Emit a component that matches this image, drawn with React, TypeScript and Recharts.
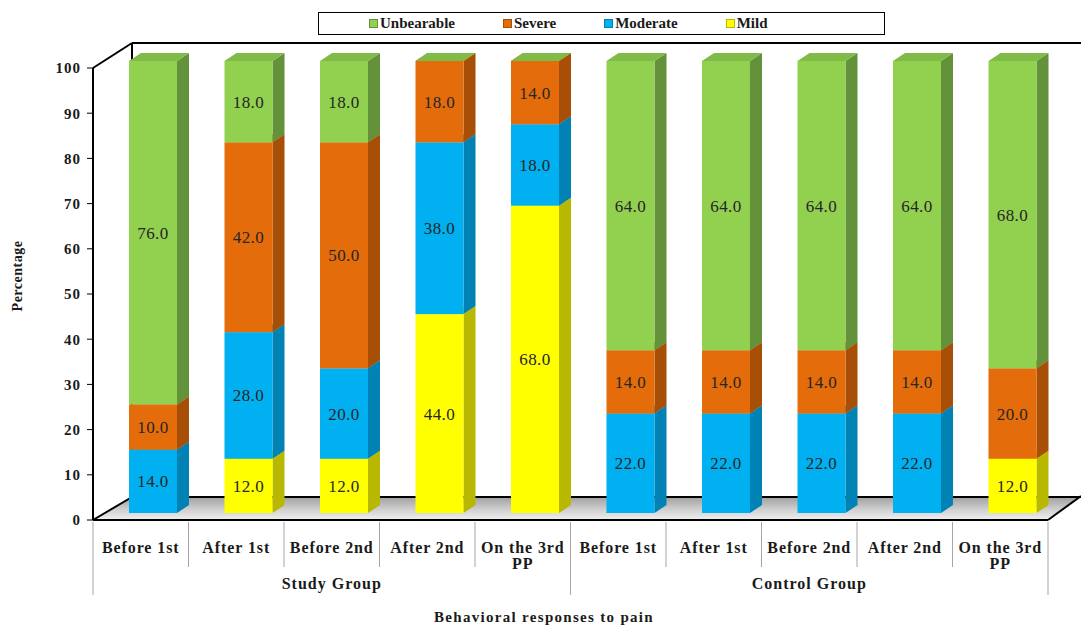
import { BarChart, Bar, XAxis, YAxis, LabelList } from "recharts"

// pain response categories, two groups of five
const categories = [
  "Before 1st", "After 1st", "Before 2nd", "After 2nd", "On the 3rd\nPP",
  "Before 1st", "After 1st", "Before 2nd", "After 2nd", "On the 3rd\nPP",
]
const groups = ["Study Group", "Control Group"]

const mild = [0, 12, 12, 44, 68, 0, 0, 0, 0, 12]
const moderate = [14, 28, 20, 38, 18, 22, 22, 22, 22, 0]
const severe = [10, 42, 50, 18, 14, 14, 14, 14, 14, 20]
const unbearable = [76, 18, 18, 0, 0, 64, 64, 64, 64, 68]

const yTicks = [0, 10, 20, 30, 40, 50, 60, 70, 80, 90, 100]

const data = categories.map((name, i) => ({
  name,
  mild: mild[i],
  moderate: moderate[i],
  severe: severe[i],
  unbearable: unbearable[i],
}))

// stacked bottom to top
const series = [
  { key: "mild", name: "Mild", front: "#ffff00", side: "#b8b800", top: "#e6e600" },
  { key: "moderate", name: "Moderate", front: "#00b0f0", side: "#0082b4", top: "#00a0dc" },
  { key: "severe", name: "Severe", front: "#e46c0a", side: "#a84f07", top: "#cc6109" },
  { key: "unbearable", name: "Unbearable", front: "#92d050", side: "#64923a", top: "#80bb48" },
]
const legendOrder = ["unbearable", "severe", "moderate", "mild"]

const W = 1081
const H = 628
const LEFT = 93
const RIGHT = 1048
const TOP = 68
const BOTTOM = 520
const BAND = (RIGHT - LEFT) / categories.length
const BACK_X = 39
const BACK_Y = -24
// bars sit part-way into the depth of the box
const BAR_DX = 12
const BAR_DY = -7
const DEPTH_X = 12
const DEPTH_Y = -8

const serif = "Liberation Serif, Tinos, Times New Roman, DejaVu Serif, serif"

function Box3D(props: any) {
  const { x, y, width, height, s, drawTop } = props
  if (x == null || y == null) return null
  const fx = x + BAR_DX
  const fy = y + BAR_DY
  const w = width
  const h = Math.max(0, height)
  return (
    <g>
      {h > 0 && (
        <>
          <polygon
            points={`${fx + w},${fy} ${fx + w + DEPTH_X},${fy + DEPTH_Y} ${fx + w + DEPTH_X},${fy + h + DEPTH_Y} ${fx + w},${fy + h}`}
            fill={s.side}
          />
          <rect x={fx} y={fy} width={w} height={h} fill={s.front} />
        </>
      )}
      {(h > 0 || drawTop) && (
        <polygon
          points={`${fx},${fy} ${fx + DEPTH_X},${fy + DEPTH_Y} ${fx + w + DEPTH_X},${fy + DEPTH_Y} ${fx + w},${fy}`}
          fill={s.top}
        />
      )}
    </g>
  )
}

function ValueLabel(props: any) {
  const vb = props.viewBox || props
  const { x, y, width, height } = vb
  const v = Number(props.value)
  if (!v) return null
  return (
    <text
      x={x + BAR_DX + width / 2}
      y={y + BAR_DY + height / 2}
      dy="0.35em"
      textAnchor="middle"
      style={{ fontFamily: serif }}
      fontSize={17}
      letterSpacing={0.4}
      fill="#262626"
    >
      {v.toFixed(1)}
    </text>
  )
}

function CategoryTick(props: any) {
  const { x, y, payload, index } = props
  const lines = String(payload.value).split("\n")
  const left = x - BAND / 2
  const groupEdge = index % 5 === 0
  const groupIdx = Math.floor(index / 5)
  return (
    <g>
      <line x1={left} y1={BOTTOM + 2} x2={left} y2={groupEdge ? 595 : 567} stroke="#a6a6a6" />
      {index === categories.length - 1 && (
        <line x1={left + BAND} y1={BOTTOM + 2} x2={left + BAND} y2={595} stroke="#a6a6a6" />
      )}
      <text
        x={x}
        y={y + 25}
        textAnchor="middle"
        style={{ fontFamily: serif }}
        fontWeight="bold"
        fontSize={16}
        letterSpacing={0.9}
        fill="#1a1a1a"
      >
        {lines.map((l, i) => (
          <tspan key={i} x={x} dy={i === 0 ? 0 : 16}>
            {l}
          </tspan>
        ))}
      </text>
      {index % 5 === 2 && (
        <text
          x={x}
          y={589}
          textAnchor="middle"
          style={{ fontFamily: serif }}
          fontWeight="bold"
          fontSize={16}
          letterSpacing={1}
          fill="#1a1a1a"
        >
          {groups[groupIdx]}
        </text>
      )}
    </g>
  )
}

function Frame() {
  const bx = LEFT + BACK_X
  const ty = TOP + BACK_Y - 1
  const fy = BOTTOM + BACK_Y + 1
  return (
    <g>
      <defs>
        <linearGradient id="floorShade" x1="0" y1="0" x2="0" y2="1">
          <stop offset="0%" stopColor="#a0a0a0" />
          <stop offset="60%" stopColor="#d4d4d4" />
          <stop offset="100%" stopColor="#f0f0f0" />
        </linearGradient>
      </defs>
      <polygon
        points={`${LEFT},${BOTTOM} ${RIGHT},${BOTTOM} ${W},${fy} ${bx},${fy}`}
        fill="url(#floorShade)"
      />
      <g stroke="#000" strokeWidth={2} fill="none">
        <line x1={bx} y1={ty} x2={W} y2={ty} />
        <line x1={bx} y1={ty} x2={bx} y2={fy} />
        <line x1={LEFT} y1={TOP} x2={bx} y2={ty} />
        <line x1={bx} y1={fy} x2={W} y2={fy} />
        <line x1={LEFT} y1={BOTTOM} x2={bx} y2={fy} />
        <line x1={LEFT} y1={BOTTOM} x2={RIGHT} y2={BOTTOM} />
        <line x1={RIGHT} y1={BOTTOM} x2={W} y2={fy - 1} />
      </g>
    </g>
  )
}

function LegendBox() {
  return (
    <div
      style={{
        position: "absolute",
        left: 318,
        top: 12,
        width: 567,
        height: 23,
        boxSizing: "border-box",
        border: "1px solid #000",
        display: "flex",
        alignItems: "center",
        paddingLeft: 50,
        gap: 48,
        fontFamily: serif,
        fontWeight: "bold",
        fontSize: 15,
        color: "#1a1a1a",
        background: "#fff",
      }}
    >
      {legendOrder.map((k) => {
        const s = series.find((d) => d.key === k)!
        return (
          <div key={k} style={{ display: "flex", alignItems: "center" }}>
            <span
              style={{
                display: "inline-block",
                width: 7,
                height: 7,
                marginRight: 2,
                background: s.front,
                border: `1px solid ${s.side}`,
              }}
            />
            {s.name}
          </div>
        )
      })}
    </div>
  )
}

export default function App() {
  return (
    <div style={{ position: "absolute", left: 0, top: 0, width: W, height: H, background: "#fff" }}>
      <BarChart
        width={W}
        height={H}
        data={data}
        margin={{ top: TOP, right: W - RIGHT, bottom: 0, left: LEFT - 60 }}
        barSize={48}
      >
        <Frame />
        <XAxis
          dataKey="name"
          height={H - BOTTOM}
          axisLine={false}
          tickLine={false}
          interval={0}
          tick={<CategoryTick />}
          label={{
            content: () => (
              <text
                x={544}
                y={622}
                textAnchor="middle"
                style={{ fontFamily: serif }}
                fontWeight="bold"
                fontSize={15}
                letterSpacing={1.3}
                fill="#1a1a1a"
              >
                Behavioral responses to pain
              </text>
            ),
          }}
        />
        <YAxis
          width={60}
          domain={[0, 100]}
          ticks={yTicks}
          interval={0}
          axisLine={{ stroke: "#000", strokeWidth: 2 }}
          tickLine={{ stroke: "#000" }}
          tickSize={6}
          tickMargin={6}
          tick={{ style: { fontFamily: serif }, fontWeight: "bold", fontSize: 15, fill: "#1a1a1a", letterSpacing: 1 }}
          label={{
            content: () => (
              <text
                x={22}
                y={276}
                textAnchor="middle"
                transform="rotate(-90 22 276)"
                style={{ fontFamily: serif }}
                fontWeight="bold"
                fontSize={14}
                letterSpacing={0.5}
                fill="#1a1a1a"
              >
                Percentage
              </text>
            ),
          }}
        />
        {series.map((s) => (
          <Bar
            key={s.key}
            dataKey={s.key}
            name={s.name}
            stackId="pain"
            isAnimationActive={false}
            shape={(p: any) => <Box3D {...p} s={s} drawTop={s.key === "unbearable"} />}
          >
            <LabelList dataKey={s.key} content={<ValueLabel />} />
          </Bar>
        ))}
      </BarChart>
      <LegendBox />
    </div>
  )
}
